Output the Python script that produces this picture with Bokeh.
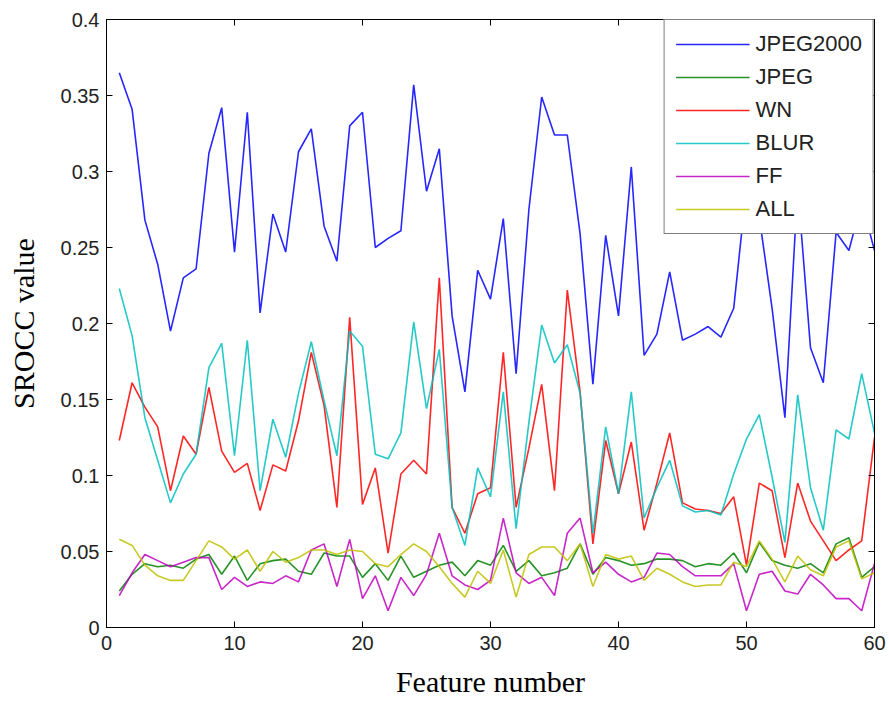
from bokeh.plotting import figure
from bokeh.models import Range1d, LinearAxis, FixedTicker, Legend, LegendItem
from bokeh.embed import file_html
from bokeh.resources import INLINE

features = list(range(1, 61))

jpeg2000 = [0.365, 0.341, 0.268, 0.239, 0.195, 0.230, 0.236, 0.312, 0.342, 0.247,
            0.339, 0.207, 0.272, 0.247, 0.313, 0.328, 0.264, 0.241, 0.330, 0.339,
            0.250, 0.256, 0.261, 0.357, 0.287, 0.315, 0.205, 0.155, 0.235, 0.216,
            0.269, 0.167, 0.275, 0.349, 0.324, 0.324, 0.259, 0.160, 0.258, 0.205,
            0.303, 0.179, 0.193, 0.234, 0.189, 0.193, 0.198, 0.191, 0.210, 0.290,
            0.270, 0.210, 0.138, 0.290, 0.184, 0.161, 0.260, 0.248, 0.280, 0.248]

jpeg = [0.024, 0.035, 0.042, 0.040, 0.041, 0.039, 0.045, 0.048, 0.035, 0.047,
        0.031, 0.042, 0.044, 0.045, 0.037, 0.035, 0.049, 0.047, 0.047, 0.033,
        0.042, 0.031, 0.047, 0.033, 0.037, 0.041, 0.043, 0.034, 0.044, 0.041,
        0.054, 0.037, 0.044, 0.034, 0.036, 0.039, 0.055, 0.035, 0.046, 0.044,
        0.041, 0.042, 0.045, 0.045, 0.044, 0.040, 0.042, 0.041, 0.049, 0.036,
        0.056, 0.044, 0.041, 0.039, 0.042, 0.036, 0.055, 0.059, 0.033, 0.040]

wn = [0.123, 0.161, 0.145, 0.132, 0.090, 0.126, 0.114, 0.158, 0.116, 0.102,
      0.108, 0.077, 0.107, 0.103, 0.136, 0.181, 0.146, 0.079, 0.204, 0.081,
      0.105, 0.049, 0.101, 0.110, 0.101, 0.230, 0.079, 0.062, 0.088, 0.092,
      0.181, 0.079, 0.118, 0.160, 0.090, 0.222, 0.155, 0.055, 0.123, 0.088,
      0.122, 0.064, 0.095, 0.128, 0.082, 0.078, 0.077, 0.075, 0.086, 0.041,
      0.095, 0.090, 0.046, 0.095, 0.070, 0.057, 0.044, 0.051, 0.057, 0.125]

blur = [0.223, 0.192, 0.138, 0.110, 0.082, 0.101, 0.114, 0.171, 0.187, 0.113,
        0.189, 0.090, 0.137, 0.112, 0.154, 0.188, 0.149, 0.113, 0.195, 0.185,
        0.114, 0.111, 0.128, 0.201, 0.144, 0.183, 0.079, 0.054, 0.105, 0.086,
        0.155, 0.065, 0.135, 0.199, 0.174, 0.186, 0.154, 0.062, 0.132, 0.088,
        0.155, 0.072, 0.092, 0.110, 0.080, 0.076, 0.077, 0.074, 0.101, 0.124,
        0.140, 0.099, 0.056, 0.153, 0.092, 0.064, 0.130, 0.124, 0.167, 0.128]

ff = [0.021, 0.036, 0.048, 0.044, 0.040, 0.043, 0.046, 0.046, 0.025, 0.033,
      0.027, 0.030, 0.029, 0.034, 0.030, 0.051, 0.055, 0.027, 0.058, 0.019,
      0.034, 0.011, 0.033, 0.021, 0.035, 0.062, 0.034, 0.028, 0.025, 0.031,
      0.072, 0.036, 0.029, 0.033, 0.021, 0.062, 0.072, 0.036, 0.043, 0.035,
      0.030, 0.033, 0.049, 0.048, 0.040, 0.034, 0.034, 0.034, 0.042, 0.011,
      0.035, 0.037, 0.024, 0.022, 0.035, 0.028, 0.019, 0.019, 0.011, 0.042]

all_ = [0.058, 0.054, 0.041, 0.034, 0.031, 0.031, 0.044, 0.057, 0.053, 0.045,
        0.051, 0.037, 0.050, 0.043, 0.046, 0.051, 0.051, 0.048, 0.051, 0.050,
        0.042, 0.040, 0.048, 0.055, 0.050, 0.040, 0.029, 0.020, 0.037, 0.029,
        0.051, 0.020, 0.048, 0.053, 0.053, 0.044, 0.055, 0.027, 0.048, 0.045,
        0.047, 0.031, 0.039, 0.035, 0.030, 0.027, 0.028, 0.028, 0.043, 0.040,
        0.057, 0.045, 0.030, 0.047, 0.038, 0.034, 0.053, 0.057, 0.032, 0.036]

series_names = ["JPEG2000", "JPEG", "WN", "BLUR", "FF", "ALL"]
series_values = [jpeg2000, jpeg, wn, blur, ff, all_]
series_colors = ["#0000ff", "#008000", "#ff0000", "#00bfbf", "#bf00bf", "#bfbf00"]

x_ticks = [0, 10, 20, 30, 40, 50, 60]
y_ticks = [0, 0.05, 0.1, 0.15, 0.2, 0.25, 0.3, 0.35, 0.4]
y_tick_labels = {0: "0", 0.05: "0.05", 0.1: "0.1", 0.15: "0.15", 0.2: "0.2",
                 0.25: "0.25", 0.3: "0.3", 0.35: "0.35", 0.4: "0.4"}

p = figure(width=889, height=702, output_backend="svg", toolbar_location=None,
           x_range=Range1d(0, 60), y_range=Range1d(0, 0.4),
           min_border_left=106, min_border_right=15, min_border_top=19,
           min_border_bottom=75, background_fill_color="white",
           border_fill_color="white")
p.xgrid.visible = False
p.ygrid.visible = False
p.outline_line_color = "black"
p.outline_line_width = 1

tick_font = "Liberation Sans"
for ax in [p.xaxis[0], p.yaxis[0]]:
    ax.major_tick_in = 6
    ax.major_tick_out = 0
    ax.minor_tick_in = 0
    ax.minor_tick_out = 0
    ax.axis_line_color = "black"
    ax.major_tick_line_color = "black"
    ax.major_label_text_font = tick_font
    ax.major_label_text_font_size = "20px"
    ax.major_label_text_color = "#222222"
    ax.axis_label_text_font = "Liberation Serif"
    ax.axis_label_text_font_style = "normal"
    ax.axis_label_text_font_size = "30px"
    ax.axis_label_text_color = "black"

p.xaxis[0].ticker = FixedTicker(ticks=x_ticks)
p.yaxis[0].ticker = FixedTicker(ticks=y_ticks)
p.yaxis[0].major_label_overrides = y_tick_labels
p.xaxis[0].axis_label = "Feature number"
p.yaxis[0].axis_label = "SROCC value"
p.xaxis[0].major_label_standoff = 8
p.yaxis[0].major_label_standoff = 7
p.yaxis[0].axis_label_standoff = 18
p.xaxis[0].axis_label_standoff = 12

top_axis = LinearAxis(ticker=FixedTicker(ticks=x_ticks),
                      major_label_overrides={t: "" for t in x_ticks},
                      major_tick_in=6, major_tick_out=0, minor_tick_in=0, minor_tick_out=0,
                      major_label_standoff=0, axis_line_color="black")
right_axis = LinearAxis(ticker=FixedTicker(ticks=y_ticks),
                        major_label_overrides={t: "" for t in y_ticks},
                        major_tick_in=6, major_tick_out=0, minor_tick_in=0, minor_tick_out=0,
                        major_label_standoff=0, axis_line_color="black")
p.add_layout(top_axis, "above")
p.add_layout(right_axis, "right")

items = []
for name, vals, col in zip(series_names, series_values, series_colors):
    r = p.line(features, vals, line_color=col, line_width=1.6, line_alpha=0.85)
    items.append(LegendItem(label=name, renderers=[r]))

legend = Legend(items=items, location="top_right", margin=0, padding=11,
                spacing=7, glyph_width=74, glyph_height=22, label_height=22,
                label_standoff=6, label_text_font=tick_font,
                label_text_font_size="22px", label_text_color="#222222",
                border_line_color="black", border_line_width=1.5,
                background_fill_color="white", background_fill_alpha=1.0)
p.add_layout(legend, "center")

open("out.html", "w").write(file_html(p, INLINE))
